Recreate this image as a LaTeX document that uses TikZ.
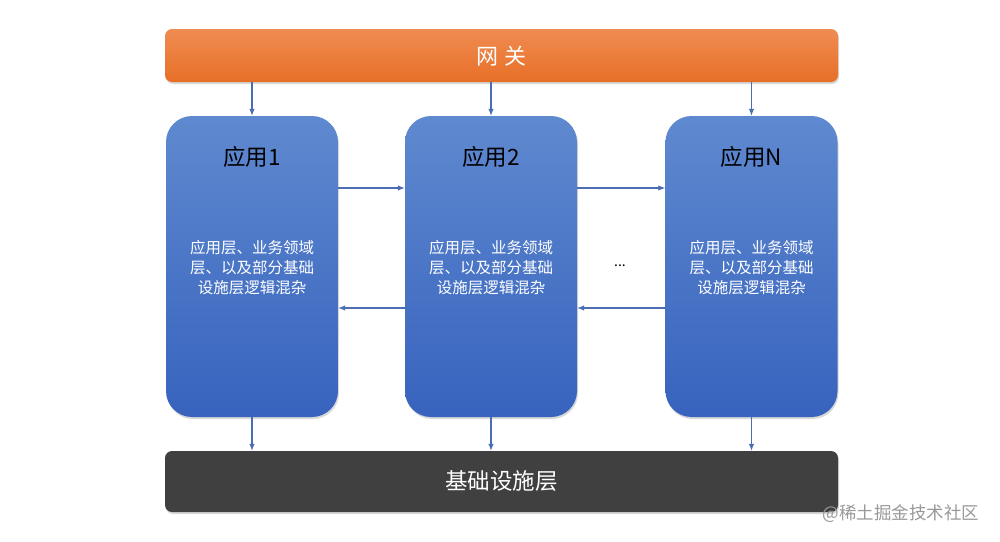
\documentclass[tikz,border=0pt]{standalone}
\usepackage{fontspec}
\setmainfont{Noto Sans CJK SC}
\usetikzlibrary{arrows.meta,shadows}
\definecolor{arrcol}{HTML}{4A6DB3}
\definecolor{orgtop}{HTML}{F08C52}
\definecolor{orgbot}{HTML}{E76F27}
\definecolor{bluetop}{HTML}{5F89CF}
\definecolor{bluebot}{HTML}{3763BE}
\definecolor{infracol}{HTML}{404040}
\tikzset{
  arr/.style={draw=arrcol, line width=1.1pt, -{Latex[length=7pt,width=5.5pt]}},
  shad/.style={drop shadow={opacity=0.3, shadow xshift=1pt, shadow yshift=-2pt}},
  gwbox/.style={shad, rounded corners=7pt, top color=orgtop, bottom color=orgbot, draw=none,
    minimum width=673pt, minimum height=53pt, inner sep=0pt},
  appbox/.style={shad, rounded corners=26pt, top color=bluetop, bottom color=bluebot, draw=none,
    minimum width=172pt, minimum height=301pt, inner sep=0pt},
  infbox/.style={shad, rounded corners=7pt, fill=infracol, draw=none,
    minimum width=673pt, minimum height=61pt, inner sep=0pt},
  apptitle/.style={font=\fontsize{22.5pt}{26pt}\selectfont, text=black},
  appbody/.style={font=\fontsize{15.5pt}{20pt}\selectfont, text=white, align=center},
}
\begin{document}
\begin{tikzpicture}[x=1pt,y=-1pt]
\useasboundingbox (0,0) rectangle (1000,541);
\fill[white] (0,0) rectangle (1000,541);
\node[gwbox] (gw) at (501.5,55.5) {};
\node[font=\fontsize{22pt}{26pt}\selectfont, text=white] (gwt) at (501.5,56) {网\hspace{6pt}关};
\node[appbox] (a1) at (252,266.5) {};
\node[appbox] (a2) at (491,266.5) {};
\node[appbox] (a3) at (751.5,266.5) {};
\node[infbox] (inf) at (501.5,481.5) {};
\node[font=\fontsize{22.5pt}{26pt}\selectfont, text=white] (inft) at (501.5,481) {基础设施层};
\node[apptitle] (t1) at (252,157) {应用1};
\node[apptitle] (t2) at (491,157) {应用2};
\node[apptitle] (t3) at (751.5,157) {应用N};
\node[appbody] (b1) at (252,268) {应用层、业务领域\\层、以及部分基础\\设施层逻辑混杂};
\node[appbody] (b2) at (491,268) {应用层、业务领域\\层、以及部分基础\\设施层逻辑混杂};
\node[appbody] (b3) at (751.5,268) {应用层、业务领域\\层、以及部分基础\\设施层逻辑混杂};
\node[font=\fontsize{14pt}{16pt}\selectfont] (dots) at (620,266) {...};
\coordinate (r1) at (0,188);
\coordinate (r2) at (0,308);
\draw[arr] (gw.south -| a1) -- (a1.north);
\draw[arr] (gw.south -| a2) -- (a2.north);
\draw[arr] (gw.south -| a3) -- (a3.north);
\draw[arr] (a1.south) -- (inf.north -| a1);
\draw[arr] (a2.south) -- (inf.north -| a2);
\draw[arr] (a3.south) -- (inf.north -| a3);
\draw[arr] (a1.east |- r1) -- (a2.west |- r1);
\draw[arr] (a2.east |- r1) -- (a3.west |- r1);
\draw[arr] (a2.west |- r2) -- (a1.east |- r2);
\draw[arr] (a3.west |- r2) -- (a2.east |- r2);
\node[font=\fontsize{17.5pt}{19pt}\selectfont, text=black!40, anchor=west] (wm) at (819,514) {@稀土掘金技术社区};
\end{tikzpicture}
\end{document}
